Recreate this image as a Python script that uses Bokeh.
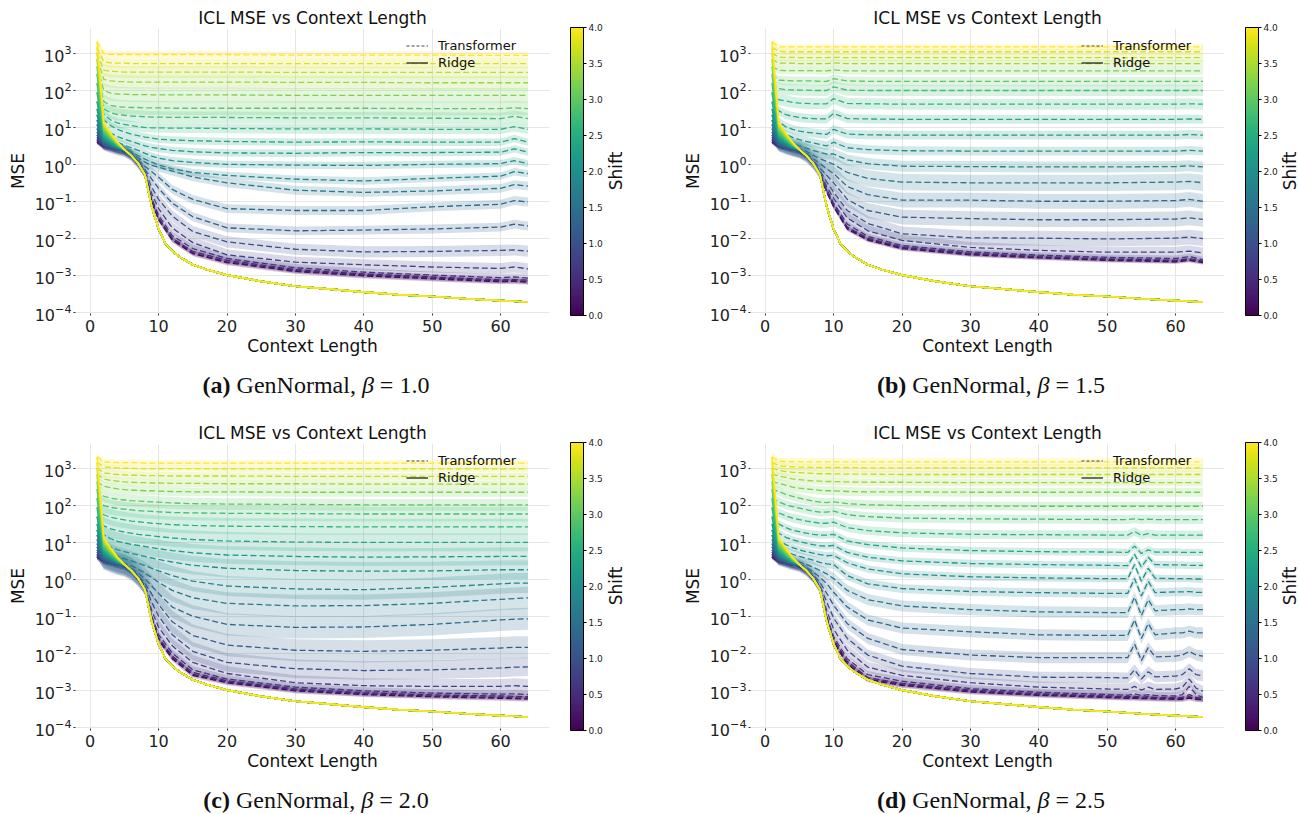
from math import pi
from bokeh.plotting import figure
from bokeh.models import (Range1d, FixedTicker, LogTickFormatter, ColorBar, LinearColorMapper,
                          Legend, LegendItem, Label, Div, PrintfTickFormatter)
from bokeh.layouts import column, row
from bokeh.palettes import Viridis256
from bokeh.embed import file_html
from bokeh.resources import INLINE

# ---------------- data (MSE values stored as log10) ----------------
SHIFTS = [0.0, 0.2, 0.4, 0.6, 0.8, 1.0, 1.2, 1.4, 1.6, 1.8, 2.0,
          2.2, 2.4, 2.6, 2.8, 3.0, 3.2, 3.4, 3.6, 3.8, 4.0]
X_TICKS = [0, 10, 20, 30, 40, 50, 60]
Y_TICKS = [1e-4, 1e-3, 1e-2, 1e-1, 1e0, 1e1, 1e2, 1e3]
CB_TICKS = [0.0, 0.5, 1.0, 1.5, 2.0, 2.5, 3.0, 3.5, 4.0]
TITLE = "ICL MSE vs Context Length"
PANEL_TAGS = ["(a)", "(b)", "(c)", "(d)"]
BETAS = ["1.0", "1.5", "2.0", "2.5"]

# Ridge: per-shift values for context lengths 1-4, shared curve afterwards
RIDGE_HEAD_X = [1, 2, 3, 4]
RIDGE_HEAD_LOG = [
    [0.60, 0.47, 0.43, 0.38], [0.62, 0.48, 0.43, 0.38], [0.65, 0.49, 0.44, 0.39],
    [0.69, 0.50, 0.45, 0.39], [0.74, 0.52, 0.46, 0.40], [0.80, 0.54, 0.47, 0.41],
    [0.88, 0.56, 0.48, 0.42], [0.97, 0.59, 0.50, 0.43], [1.08, 0.62, 0.52, 0.44],
    [1.20, 0.65, 0.54, 0.45], [1.34, 0.68, 0.56, 0.46], [1.50, 0.72, 0.58, 0.47],
    [1.70, 0.76, 0.61, 0.49], [1.95, 0.80, 0.64, 0.50], [2.20, 0.85, 0.67, 0.52],
    [2.45, 0.90, 0.70, 0.53], [2.65, 0.95, 0.73, 0.55], [2.85, 1.00, 0.76, 0.56],
    [3.02, 1.04, 0.79, 0.58], [3.17, 1.08, 0.82, 0.59], [3.32, 1.12, 0.85, 0.60],
]
RIDGE_TAIL_X = [5, 6, 7, 8, 9, 10, 11, 12, 13, 15, 17, 20, 25, 30, 35, 40, 45, 50, 55, 60, 64]
RIDGE_TAIL_LOG = [0.40, 0.24, 0.03, -0.28, -1.15, -1.75, -2.15, -2.35, -2.50, -2.72, -2.85,
                  -3.00, -3.17, -3.30, -3.38, -3.46, -3.53, -3.58, -3.64, -3.69, -3.73]

X_ABC = [1, 2, 3, 4, 5, 6, 7, 8, 9, 10, 12, 15, 20, 30, 40, 50, 60, 62, 64]
X_D = [1, 2, 3, 4, 5, 6, 7, 8, 9, 10, 12, 15, 20, 30, 40, 50, 53, 54, 55, 56, 57, 60, 61, 62, 63, 64]

TF_LOG_A = [
    [0.60, 0.47, 0.43, 0.38, 0.33, 0.22, 0.02, -0.27, -1.00, -1.50, -2.05, -2.42, -2.66, -2.90, -3.02, -3.10, -3.18, -3.17, -3.19],
    [0.62, 0.48, 0.43, 0.38, 0.34, 0.22, 0.02, -0.27, -1.00, -1.48, -2.03, -2.40, -2.64, -2.88, -3.00, -3.08, -3.16, -3.15, -3.18],
    [0.65, 0.49, 0.44, 0.39, 0.34, 0.23, 0.03, -0.26, -0.98, -1.45, -2.00, -2.36, -2.60, -2.85, -2.97, -3.05, -3.13, -3.12, -3.14],
    [0.69, 0.50, 0.45, 0.39, 0.35, 0.23, 0.03, -0.25, -0.93, -1.38, -1.93, -2.28, -2.55, -2.80, -2.92, -3.00, -3.07, -3.05, -3.08],
    [0.74, 0.52, 0.46, 0.40, 0.35, 0.24, 0.04, -0.23, -0.80, -1.20, -1.72, -2.12, -2.45, -2.65, -2.72, -2.78, -2.82, -2.78, -2.83],
    [0.80, 0.54, 0.47, 0.41, 0.36, 0.25, 0.05, -0.20, -0.62, -0.95, -1.40, -1.82, -2.10, -2.30, -2.37, -2.36, -2.33, -2.32, -2.35],
    [0.88, 0.56, 0.48, 0.42, 0.37, 0.26, 0.08, -0.14, -0.40, -0.65, -1.05, -1.42, -1.72, -1.80, -1.78, -1.75, -1.70, -1.62, -1.67],
    [0.97, 0.59, 0.50, 0.43, 0.38, 0.28, 0.12, -0.05, -0.20, -0.35, -0.68, -0.95, -1.20, -1.25, -1.25, -1.15, -1.08, -0.98, -1.02],
    [1.08, 0.62, 0.52, 0.44, 0.40, 0.31, 0.18, 0.06, -0.03, -0.08, -0.18, -0.34, -0.50, -0.70, -0.76, -0.72, -0.65, -0.55, -0.59],
    [1.20, 0.75, 0.60, 0.50, 0.43, 0.34, 0.24, 0.14, 0.06, -0.02, -0.12, -0.22, -0.30, -0.40, -0.45, -0.38, -0.32, -0.20, -0.25],
    [1.34, 0.85, 0.70, 0.60, 0.52, 0.45, 0.38, 0.30, 0.22, 0.17, 0.10, 0.05, 0.00, -0.02, -0.03, 0.00, 0.02, 0.10, 0.02],
    [1.50, 1.00, 0.85, 0.75, 0.68, 0.62, 0.56, 0.50, 0.46, 0.43, 0.38, 0.34, 0.31, 0.30, 0.32, 0.32, 0.33, 0.42, 0.33],
    [1.70, 1.20, 1.05, 0.95, 0.88, 0.82, 0.78, 0.74, 0.71, 0.68, 0.66, 0.64, 0.62, 0.60, 0.61, 0.60, 0.60, 0.70, 0.60],
    [1.95, 1.35, 1.20, 1.12, 1.08, 1.05, 1.02, 1.00, 0.99, 0.99, 0.98, 0.98, 0.97, 0.96, 0.96, 0.95, 0.95, 1.02, 0.95],
    [2.20, 1.50, 1.40, 1.35, 1.33, 1.31, 1.30, 1.29, 1.28, 1.28, 1.27, 1.27, 1.27, 1.26, 1.26, 1.25, 1.24, 1.30, 1.24],
    [2.45, 1.70, 1.60, 1.56, 1.55, 1.54, 1.54, 1.53, 1.53, 1.53, 1.52, 1.52, 1.52, 1.52, 1.52, 1.51, 1.51, 1.53, 1.51],
    [2.65, 2.00, 1.93, 1.90, 1.90, 1.89, 1.89, 1.89, 1.88, 1.88, 1.88, 1.88, 1.88, 1.87, 1.87, 1.87, 1.87, 1.87, 1.87],
    [2.85, 2.30, 2.26, 2.24, 2.24, 2.23, 2.23, 2.23, 2.23, 2.23, 2.23, 2.23, 2.23, 2.22, 2.22, 2.21, 2.21, 2.21, 2.21],
    [3.02, 2.55, 2.52, 2.51, 2.50, 2.50, 2.50, 2.50, 2.50, 2.50, 2.50, 2.50, 2.50, 2.49, 2.49, 2.49, 2.49, 2.49, 2.49],
    [3.17, 2.78, 2.75, 2.74, 2.74, 2.73, 2.73, 2.73, 2.73, 2.73, 2.73, 2.73, 2.73, 2.73, 2.73, 2.73, 2.73, 2.73, 2.73],
    [3.32, 3.00, 2.98, 2.97, 2.97, 2.97, 2.97, 2.97, 2.97, 2.97, 2.97, 2.97, 2.97, 2.96, 2.96, 2.96, 2.95, 2.95, 2.95],
]
TF_LOG_B = [
    [0.60, 0.47, 0.43, 0.38, 0.33, 0.22, 0.02, -0.27, -0.75, -1.15, -1.75, -2.05, -2.28, -2.45, -2.53, -2.60, -2.64, -2.60, -2.66],
    [0.62, 0.48, 0.43, 0.38, 0.34, 0.22, 0.02, -0.27, -0.74, -1.13, -1.73, -2.03, -2.26, -2.43, -2.52, -2.58, -2.62, -2.58, -2.64],
    [0.65, 0.49, 0.44, 0.39, 0.34, 0.23, 0.03, -0.26, -0.72, -1.10, -1.70, -2.00, -2.24, -2.41, -2.50, -2.56, -2.60, -2.56, -2.62],
    [0.69, 0.50, 0.45, 0.39, 0.35, 0.23, 0.03, -0.25, -0.68, -1.05, -1.62, -1.95, -2.20, -2.37, -2.46, -2.52, -2.55, -2.50, -2.58],
    [0.74, 0.52, 0.46, 0.40, 0.35, 0.24, 0.04, -0.22, -0.60, -0.92, -1.45, -1.80, -2.06, -2.25, -2.33, -2.38, -2.38, -2.35, -2.40],
    [0.80, 0.54, 0.47, 0.41, 0.36, 0.25, 0.06, -0.18, -0.48, -0.75, -1.25, -1.60, -1.88, -1.99, -2.00, -2.02, -2.00, -1.97, -2.01],
    [0.88, 0.56, 0.48, 0.42, 0.37, 0.27, 0.10, -0.10, -0.30, -0.50, -0.95, -1.25, -1.43, -1.47, -1.50, -1.50, -1.48, -1.45, -1.49],
    [0.97, 0.59, 0.50, 0.44, 0.39, 0.30, 0.16, 0.02, -0.12, -0.25, -0.60, -0.82, -0.97, -0.97, -1.00, -1.00, -0.98, -0.95, -1.00],
    [1.08, 0.66, 0.55, 0.48, 0.42, 0.35, 0.25, 0.15, 0.08, 0.00, -0.22, -0.38, -0.48, -0.50, -0.50, -0.50, -0.48, -0.46, -0.50],
    [1.20, 0.80, 0.66, 0.57, 0.50, 0.44, 0.38, 0.32, 0.28, 0.28, 0.12, 0.02, -0.05, -0.06, -0.07, -0.07, -0.06, -0.04, -0.07],
    [1.34, 0.95, 0.82, 0.73, 0.67, 0.62, 0.58, 0.54, 0.50, 0.60, 0.45, 0.40, 0.37, 0.36, 0.36, 0.36, 0.36, 0.38, 0.36],
    [1.50, 1.15, 1.02, 0.95, 0.90, 0.87, 0.85, 0.83, 0.81, 0.95, 0.82, 0.80, 0.79, 0.79, 0.79, 0.79, 0.79, 0.81, 0.79],
    [1.70, 1.45, 1.35, 1.30, 1.27, 1.25, 1.24, 1.23, 1.23, 1.38, 1.24, 1.23, 1.22, 1.22, 1.22, 1.22, 1.22, 1.23, 1.22],
    [1.95, 1.75, 1.72, 1.68, 1.66, 1.65, 1.64, 1.64, 1.64, 1.78, 1.65, 1.64, 1.63, 1.63, 1.63, 1.63, 1.63, 1.64, 1.63],
    [2.20, 2.05, 2.02, 2.02, 2.01, 2.01, 2.00, 2.00, 2.00, 2.10, 2.01, 2.00, 2.00, 2.00, 2.00, 2.00, 2.00, 2.00, 2.00],
    [2.45, 2.28, 2.27, 2.26, 2.26, 2.26, 2.26, 2.25, 2.25, 2.32, 2.26, 2.25, 2.25, 2.25, 2.25, 2.25, 2.25, 2.25, 2.25],
    [2.65, 2.55, 2.54, 2.54, 2.54, 2.54, 2.54, 2.53, 2.53, 2.56, 2.53, 2.53, 2.53, 2.53, 2.53, 2.53, 2.53, 2.53, 2.53],
    [2.85, 2.74, 2.74, 2.74, 2.73, 2.73, 2.73, 2.73, 2.73, 2.75, 2.73, 2.73, 2.73, 2.73, 2.73, 2.73, 2.73, 2.73, 2.73],
    [3.02, 2.90, 2.90, 2.90, 2.89, 2.89, 2.89, 2.89, 2.89, 2.90, 2.89, 2.89, 2.89, 2.89, 2.89, 2.89, 2.89, 2.89, 2.89],
    [3.17, 3.06, 3.05, 3.05, 3.05, 3.05, 3.05, 3.05, 3.05, 3.05, 3.05, 3.05, 3.05, 3.05, 3.05, 3.05, 3.05, 3.05, 3.05],
    [3.32, 3.18, 3.18, 3.18, 3.18, 3.18, 3.18, 3.18, 3.18, 3.18, 3.18, 3.18, 3.18, 3.18, 3.18, 3.18, 3.18, 3.18, 3.18],
]
TF_LOG_C = [
    [0.60, 0.47, 0.43, 0.38, 0.33, 0.22, 0.02, -0.27, -1.10, -1.65, -2.15, -2.60, -2.80, -3.02, -3.12, -3.18, -3.22, -3.23, -3.24],
    [0.62, 0.48, 0.43, 0.38, 0.34, 0.22, 0.02, -0.27, -1.08, -1.62, -2.12, -2.57, -2.78, -3.00, -3.10, -3.16, -3.20, -3.21, -3.22],
    [0.65, 0.49, 0.44, 0.39, 0.34, 0.23, 0.03, -0.26, -1.05, -1.58, -2.08, -2.52, -2.75, -2.97, -3.07, -3.13, -3.16, -3.17, -3.18],
    [0.69, 0.50, 0.45, 0.39, 0.35, 0.23, 0.03, -0.25, -1.00, -1.50, -2.00, -2.45, -2.70, -2.92, -3.02, -3.08, -3.11, -3.10, -3.12],
    [0.74, 0.52, 0.46, 0.40, 0.35, 0.24, 0.05, -0.22, -0.85, -1.30, -1.80, -2.25, -2.55, -2.80, -2.88, -2.90, -2.90, -2.88, -2.90],
    [0.80, 0.54, 0.47, 0.41, 0.36, 0.25, 0.07, -0.17, -0.62, -1.00, -1.50, -1.95, -2.25, -2.42, -2.47, -2.45, -2.40, -2.38, -2.37],
    [0.88, 0.56, 0.48, 0.42, 0.37, 0.27, 0.11, -0.10, -0.40, -0.68, -1.15, -1.52, -1.78, -1.92, -1.95, -1.92, -1.86, -1.84, -1.84],
    [0.97, 0.60, 0.51, 0.44, 0.39, 0.30, 0.17, 0.02, -0.18, -0.38, -0.75, -1.00, -1.22, -1.30, -1.29, -1.22, -1.10, -1.08, -1.07],
    [1.08, 0.68, 0.57, 0.50, 0.44, 0.37, 0.28, 0.17, 0.05, -0.08, -0.30, -0.50, -0.65, -0.72, -0.71, -0.65, -0.54, -0.52, -0.50],
    [1.20, 0.82, 0.70, 0.62, 0.56, 0.50, 0.44, 0.37, 0.30, 0.23, 0.10, -0.05, -0.18, -0.26, -0.28, -0.22, -0.12, -0.10, -0.10],
    [1.34, 1.00, 0.88, 0.80, 0.75, 0.70, 0.66, 0.62, 0.58, 0.54, 0.47, 0.38, 0.30, 0.24, 0.22, 0.23, 0.26, 0.26, 0.26],
    [1.50, 1.20, 1.10, 1.03, 0.99, 0.95, 0.92, 0.89, 0.86, 0.83, 0.78, 0.72, 0.66, 0.62, 0.60, 0.61, 0.62, 0.62, 0.62],
    [1.70, 1.45, 1.37, 1.32, 1.28, 1.25, 1.22, 1.20, 1.18, 1.16, 1.12, 1.08, 1.04, 1.01, 1.00, 1.00, 1.00, 1.00, 1.00],
    [1.95, 1.75, 1.68, 1.64, 1.61, 1.58, 1.56, 1.54, 1.52, 1.51, 1.48, 1.46, 1.44, 1.43, 1.42, 1.42, 1.42, 1.42, 1.42],
    [2.20, 2.00, 1.95, 1.92, 1.90, 1.88, 1.86, 1.85, 1.84, 1.83, 1.81, 1.80, 1.79, 1.78, 1.77, 1.77, 1.77, 1.77, 1.77],
    [2.45, 2.25, 2.20, 2.17, 2.15, 2.13, 2.12, 2.11, 2.10, 2.09, 2.07, 2.05, 2.04, 2.03, 2.02, 2.02, 2.02, 2.02, 2.02],
    [2.65, 2.52, 2.48, 2.45, 2.43, 2.42, 2.41, 2.40, 2.40, 2.39, 2.38, 2.37, 2.37, 2.36, 2.36, 2.36, 2.36, 2.36, 2.36],
    [2.85, 2.72, 2.68, 2.66, 2.64, 2.63, 2.62, 2.62, 2.61, 2.61, 2.60, 2.60, 2.59, 2.59, 2.58, 2.58, 2.58, 2.58, 2.58],
    [3.02, 2.88, 2.86, 2.84, 2.83, 2.82, 2.82, 2.81, 2.81, 2.81, 2.80, 2.80, 2.80, 2.79, 2.79, 2.79, 2.79, 2.79, 2.79],
    [3.17, 3.05, 3.03, 3.02, 3.01, 3.01, 3.00, 3.00, 3.00, 3.00, 3.00, 3.00, 2.99, 2.99, 2.99, 2.99, 2.99, 2.99, 2.99],
    [3.32, 3.18, 3.17, 3.16, 3.16, 3.16, 3.16, 3.15, 3.15, 3.15, 3.15, 3.15, 3.15, 3.15, 3.15, 3.15, 3.15, 3.15, 3.15],
]
TF_LOG_D = [
    [0.60, 0.47, 0.43, 0.38, 0.33, 0.22, 0.02, -0.27, -1.10, -1.70, -2.30, -2.72, -2.87, -3.05, -3.14, -3.20, -3.22, -3.22, -3.23, -3.23, -3.24, -3.25, -3.25, -3.22, -3.25, -3.26],
    [0.62, 0.48, 0.43, 0.38, 0.34, 0.22, 0.02, -0.27, -1.08, -1.67, -2.27, -2.70, -2.85, -3.03, -3.12, -3.18, -3.20, -3.20, -3.21, -3.21, -3.22, -3.23, -3.23, -3.18, -3.23, -3.25],
    [0.65, 0.49, 0.44, 0.39, 0.34, 0.23, 0.03, -0.26, -1.05, -1.62, -2.22, -2.66, -2.82, -3.00, -3.10, -3.16, -3.18, -3.17, -3.19, -3.18, -3.20, -3.21, -3.20, -3.12, -3.20, -3.23],
    [0.69, 0.50, 0.45, 0.39, 0.35, 0.23, 0.04, -0.25, -1.00, -1.55, -2.15, -2.58, -2.76, -2.96, -3.06, -3.12, -3.14, -3.10, -3.15, -3.12, -3.15, -3.16, -3.12, -2.90, -3.12, -3.20],
    [0.74, 0.52, 0.46, 0.40, 0.35, 0.24, 0.05, -0.22, -0.85, -1.35, -1.92, -2.38, -2.60, -2.80, -2.92, -2.97, -2.98, -2.90, -3.00, -2.92, -2.98, -2.97, -2.92, -2.70, -2.95, -3.03],
    [0.80, 0.54, 0.47, 0.41, 0.36, 0.25, 0.08, -0.17, -0.62, -1.05, -1.60, -2.05, -2.35, -2.55, -2.65, -2.66, -2.67, -2.45, -2.70, -2.50, -2.64, -2.62, -2.58, -2.42, -2.58, -2.61],
    [0.88, 0.57, 0.49, 0.43, 0.38, 0.28, 0.12, -0.08, -0.38, -0.70, -1.20, -1.60, -1.90, -2.05, -2.12, -2.12, -2.12, -1.75, -2.20, -1.85, -2.10, -2.08, -2.05, -1.95, -2.05, -2.08],
    [0.97, 0.62, 0.53, 0.46, 0.41, 0.33, 0.20, 0.06, -0.12, -0.35, -0.75, -1.10, -1.32, -1.42, -1.50, -1.52, -1.52, -1.10, -1.60, -1.20, -1.50, -1.45, -1.45, -1.40, -1.45, -1.45],
    [1.08, 0.72, 0.60, 0.53, 0.47, 0.41, 0.33, 0.24, 0.15, 0.02, -0.30, -0.55, -0.72, -0.82, -0.88, -0.90, -0.90, -0.48, -0.98, -0.55, -0.85, -0.82, -0.82, -0.80, -0.82, -0.82],
    [1.20, 0.88, 0.76, 0.68, 0.62, 0.57, 0.52, 0.46, 0.42, 0.40, 0.10, -0.12, -0.25, -0.33, -0.36, -0.38, -0.38, 0.02, -0.45, -0.05, -0.36, -0.34, -0.34, -0.33, -0.35, -0.35],
    [1.34, 1.05, 0.94, 0.86, 0.80, 0.75, 0.71, 0.67, 0.64, 0.65, 0.45, 0.28, 0.15, 0.07, 0.04, 0.02, 0.02, 0.40, -0.05, 0.30, 0.03, 0.02, 0.02, 0.02, 0.01, 0.01],
    [1.50, 1.25, 1.14, 1.07, 1.02, 0.98, 0.94, 0.91, 0.90, 0.92, 0.73, 0.60, 0.50, 0.43, 0.40, 0.38, 0.37, 0.68, 0.33, 0.60, 0.40, 0.39, 0.39, 0.38, 0.38, 0.38],
    [1.70, 1.50, 1.40, 1.33, 1.29, 1.25, 1.22, 1.20, 1.20, 1.22, 1.04, 0.94, 0.85, 0.78, 0.75, 0.74, 0.73, 0.90, 0.70, 0.80, 0.74, 0.74, 0.73, 0.73, 0.73, 0.73],
    [1.95, 1.80, 1.72, 1.66, 1.62, 1.58, 1.55, 1.52, 1.52, 1.55, 1.40, 1.32, 1.26, 1.22, 1.21, 1.20, 1.20, 1.30, 1.19, 1.24, 1.20, 1.20, 1.20, 1.20, 1.20, 1.20],
    [2.20, 2.10, 2.02, 1.97, 1.93, 1.89, 1.85, 1.82, 1.82, 1.85, 1.75, 1.70, 1.66, 1.64, 1.63, 1.62, 1.62, 1.64, 1.62, 1.63, 1.62, 1.62, 1.62, 1.62, 1.62, 1.62],
    [2.45, 2.38, 2.30, 2.25, 2.20, 2.16, 2.12, 2.09, 2.08, 2.10, 2.05, 2.02, 2.00, 1.99, 1.98, 1.98, 1.98, 1.98, 1.98, 1.98, 1.98, 1.98, 1.98, 1.98, 1.98, 1.98],
    [2.65, 2.60, 2.55, 2.50, 2.47, 2.45, 2.43, 2.41, 2.40, 2.40, 2.38, 2.37, 2.37, 2.36, 2.36, 2.36, 2.36, 2.36, 2.36, 2.36, 2.36, 2.36, 2.36, 2.36, 2.36, 2.36],
    [2.85, 2.80, 2.76, 2.72, 2.70, 2.68, 2.67, 2.66, 2.65, 2.65, 2.64, 2.63, 2.63, 2.62, 2.62, 2.62, 2.62, 2.62, 2.62, 2.62, 2.62, 2.62, 2.62, 2.62, 2.62, 2.62],
    [3.02, 2.95, 2.92, 2.90, 2.89, 2.88, 2.87, 2.86, 2.86, 2.86, 2.85, 2.85, 2.84, 2.84, 2.84, 2.84, 2.84, 2.84, 2.84, 2.84, 2.84, 2.84, 2.84, 2.84, 2.84, 2.84],
    [3.17, 3.08, 3.06, 3.05, 3.04, 3.04, 3.03, 3.03, 3.03, 3.03, 3.03, 3.02, 3.02, 3.02, 3.02, 3.02, 3.02, 3.02, 3.02, 3.02, 3.02, 3.02, 3.02, 3.02, 3.02, 3.02],
    [3.32, 3.20, 3.19, 3.19, 3.18, 3.18, 3.18, 3.18, 3.18, 3.18, 3.18, 3.18, 3.18, 3.18, 3.18, 3.18, 3.18, 3.18, 3.18, 3.18, 3.18, 3.18, 3.18, 3.18, 3.18, 3.18],
]
# half-width of the shaded spread around each transformer curve (log10 units)
BAND_A = [0.07, 0.07, 0.08, 0.10, 0.15, 0.15, 0.12, 0.12, 0.12, 0.10, 0.10, 0.10, 0.10, 0.13, 0.16, 0.19, 0.20, 0.18, 0.16, 0.13, 0.10]
BAND_B = [0.06, 0.06, 0.07, 0.08, 0.15, 0.20, 0.20, 0.20, 0.22, 0.15, 0.12, 0.12, 0.12, 0.15, 0.15, 0.12, 0.10, 0.10, 0.10, 0.08, 0.08]
BAND_C = [0.07, 0.07, 0.08, 0.10, 0.20, 0.25, 0.30, 0.30, 0.30, 0.27, 0.25, 0.24, 0.24, 0.22, 0.20, 0.16, 0.12, 0.10, 0.10, 0.08, 0.08]
BAND_D = [0.07, 0.07, 0.08, 0.10, 0.15, 0.15, 0.15, 0.15, 0.15, 0.12, 0.10, 0.10, 0.10, 0.12, 0.12, 0.12, 0.12, 0.10, 0.10, 0.10, 0.10]

PANELS = [
    (X_ABC, TF_LOG_A, BAND_A),
    (X_ABC, TF_LOG_B, BAND_B),
    (X_ABC, TF_LOG_C, BAND_C),
    (X_D, TF_LOG_D, BAND_D),
]

FONT = "DejaVu Sans"
FIG_H = 360
BORDER_TOP = 28
BORDER_BOTTOM = 47
FRAME_H = FIG_H - BORDER_TOP - BORDER_BOTTOM


def shift_color(s):
    return Viridis256[int(round(s / 4.0 * 255))]


def make_panel(idx, width, border_left):
    xs, tf_log, band = PANELS[idx]
    p = figure(width=width, height=FIG_H,
               x_range=Range1d(-2.15, 67.15), y_range=Range1d(10 ** -4.04, 10 ** 3.68),
               y_axis_type="log", output_backend="svg", toolbar_location=None,
               min_border_left=border_left, min_border_right=width - border_left - 474,
               min_border_top=BORDER_TOP, min_border_bottom=BORDER_BOTTOM, title=TITLE)
    p.title.align = "center"
    p.title.text_font = FONT
    p.title.text_font_size = "17px"
    p.title.text_font_style = "normal"
    p.title.text_color = "#111111"
    p.title.standoff = 1
    p.outline_line_color = None
    p.background_fill_color = "white"

    for i, s in enumerate(SHIFTS):
        col = shift_color(s)
        vals = tf_log[i]
        w = band[i]
        p.varea(x=xs, y1=[10 ** (v - w) for v in vals], y2=[10 ** (v + w) for v in vals],
                fill_color=col, fill_alpha=0.2)
        p.line(xs, [10 ** v for v in vals], line_color=col, line_width=1.3, line_dash="6 3")
        rx = RIDGE_HEAD_X + RIDGE_TAIL_X
        ry = RIDGE_HEAD_LOG[i] + RIDGE_TAIL_LOG
        p.line(rx, [10 ** v for v in ry], line_color=col, line_width=1.6)

    # axes
    p.xaxis.ticker = FixedTicker(ticks=X_TICKS, minor_ticks=[])
    p.yaxis.ticker = FixedTicker(ticks=Y_TICKS, minor_ticks=[])
    p.yaxis.formatter = LogTickFormatter()
    p.xaxis.axis_label = "Context Length"
    p.yaxis.axis_label = "MSE"
    for ax in (p.xaxis[0], p.yaxis[0]):
        ax.axis_line_color = None
        ax.major_tick_line_color = "#333333"
        ax.major_tick_out = 2
        ax.major_tick_in = 0
        ax.major_label_text_font = FONT
        ax.major_label_text_font_size = "16px"
        ax.major_label_text_color = "#222222"
        ax.axis_label_text_font = FONT
        ax.axis_label_text_font_size = "17px"
        ax.axis_label_text_font_style = "normal"
        ax.axis_label_text_color = "#111111"
    p.xaxis.major_label_standoff = 4
    p.xaxis.axis_label_standoff = 1
    p.yaxis.major_label_standoff = 2
    p.yaxis.axis_label_standoff = 4
    p.grid.grid_line_color = "#e6e6e6"
    p.grid.grid_line_width = 1

    # legend (proxy renderers placed outside the visible range)
    r_t = p.line([-50, -40], [1, 1], line_color="#444444", line_width=1.2, line_dash="3 2")
    r_r = p.line([-50, -40], [1, 1], line_color="#111111", line_width=1.2)
    leg = Legend(items=[LegendItem(label="Transformer", renderers=[r_t]),
                        LegendItem(label="Ridge", renderers=[r_r])],
                 location=(331, 243), border_line_color=None, background_fill_alpha=0,
                 padding=0, margin=0, spacing=2, glyph_width=22, glyph_height=15,
                 label_height=15, label_standoff=10, label_text_font=FONT,
                 label_text_font_size="13px", label_text_color="#111111")
    p.add_layout(leg)
    return p


def make_colorbar_panel(width, label_x):
    # a narrow canvas holding the colour bar and its rotated "Shift" label;
    # its frame lines up with the neighbouring plot frame (same top/bottom borders)
    p = figure(width=width, height=FIG_H, x_range=Range1d(0, width), y_range=Range1d(0, FRAME_H),
               output_backend="svg", toolbar_location=None,
               x_axis_location=None, y_axis_location=None,
               min_border_left=0, min_border_right=0,
               min_border_top=BORDER_TOP, min_border_bottom=BORDER_BOTTOM)
    p.outline_line_color = None
    p.grid.visible = False
    cmap = LinearColorMapper(palette=Viridis256, low=0, high=4)
    cb = ColorBar(color_mapper=cmap, ticker=FixedTicker(ticks=CB_TICKS),
                  formatter=PrintfTickFormatter(format="%.1f"),
                  width=13, height=288, location=(13, -2), padding=0, margin=0,
                  bar_line_color="black", bar_line_width=1,
                  major_tick_line_color="black", major_tick_out=3, major_tick_in=0,
                  minor_tick_line_color=None,
                  major_label_text_font=FONT, major_label_text_font_size="9px",
                  major_label_text_color="#222222", label_standoff=2,
                  background_fill_alpha=0, border_line_color=None)
    p.add_layout(cb)
    p.add_layout(Label(x=label_x, y=FRAME_H / 2, text="Shift", angle=pi / 2,
                       text_align="center", text_baseline="middle",
                       text_font=FONT, text_font_size="17px", text_color="#111111"))
    return p


def caption_div(height, top, lefts, tags):
    spans = ""
    for left, k in zip(lefts, tags):
        spans += (f'<span style="position:absolute;left:{left}px;top:{top}px;'
                  f'transform:translate(-50%,-50%);white-space:nowrap;line-height:1.1;">'
                  f'<b>{PANEL_TAGS[k]}</b> GenNormal, <i>&beta;</i> = {BETAS[k]}</span>')
    html = (f'<div style="position:relative;width:1299px;height:{height}px;'
            f'font-family:\'Liberation Serif\',\'Times New Roman\',serif;font-size:24px;color:#111;">'
            f'{spans}</div>')
    return Div(text=html, width=1299, height=height, margin=0)


fa = make_panel(0, 557, 75)
ca = make_colorbar_panel(116, 58)
fb = make_panel(1, 559, 77)
cbb = make_colorbar_panel(67, 57)
fc = make_panel(2, 557, 75)
cc = make_colorbar_panel(116, 58)
fd = make_panel(3, 559, 77)
cd = make_colorbar_panel(67, 57)

cap1 = caption_div(55, 25, [316, 991], [0, 1])
cap2 = caption_div(39, 25, [316, 991], [2, 3])

layout = column(row(fa, ca, fb, cbb), cap1, row(fc, cc, fd, cd), cap2)
open("out.html", "w").write(file_html(layout, INLINE))
